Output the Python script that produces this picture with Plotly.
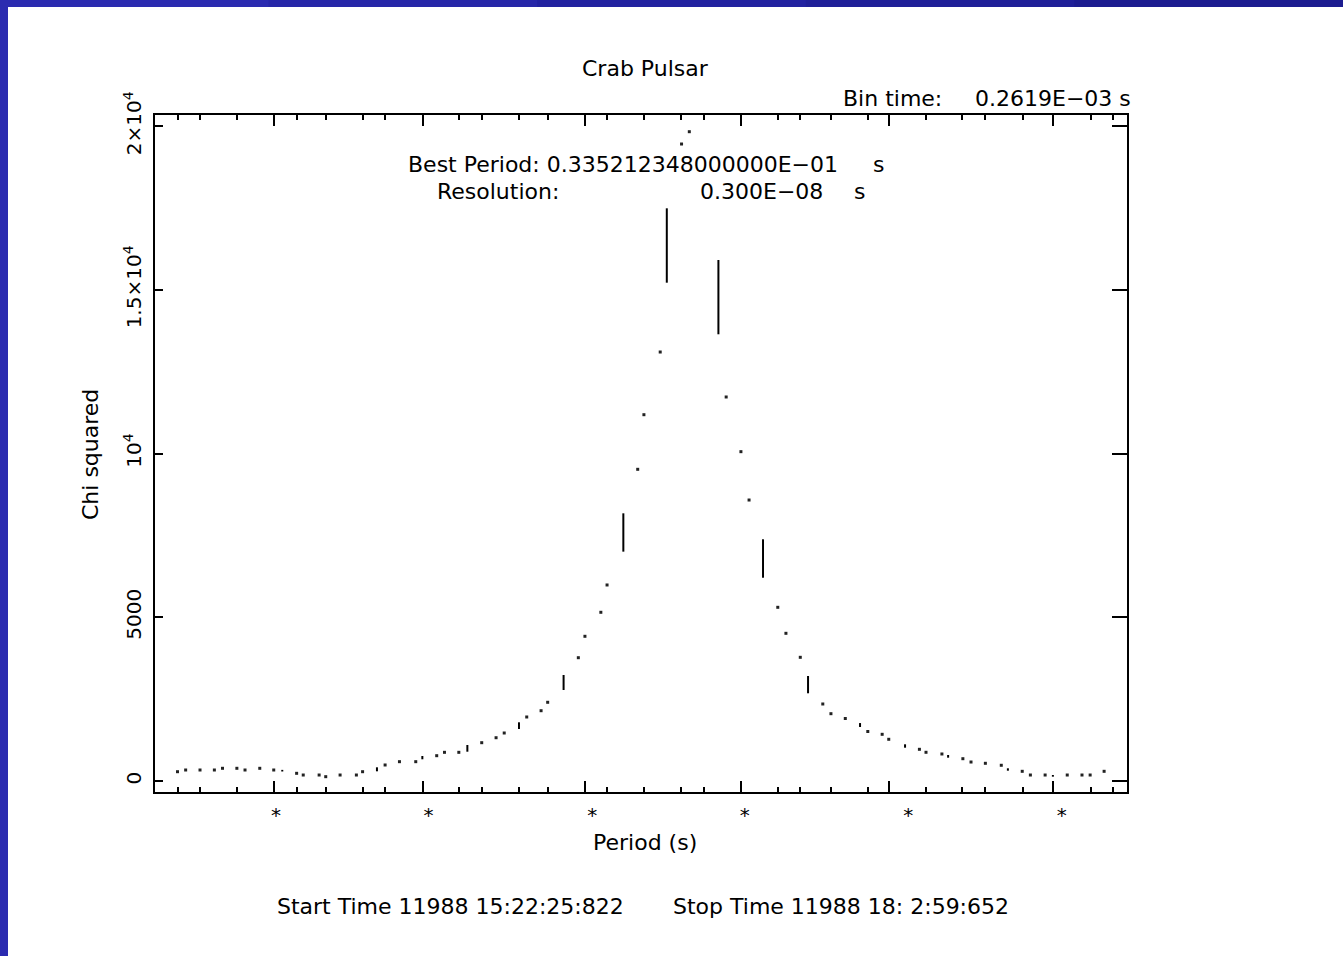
import plotly.graph_objects as go

# ---------------- data ----------------
# x: period offset from the best period, in ns ; y: chi squared
dot_x = [-131.8, -129.7, -126.0, -122.3, -120.2, -116.5, -114.4, -110.6, -107.0, -101.1,
         -99.4, -95.3, -93.6, -89.9, -85.7, -84.1, -78.3, -74.6, -70.4, -65.0,
         -63.0, -59.3, -53.4, -49.7, -47.6, -41.8, -38.1, -36.4, -28.5, -26.8,
         -22.7, -21.1, -13.2, -11.6, -7.4, -1.9, 0.1, 9.6, 13.4, 15.5,
         22.9, 25.0, 28.7, 34.5, 36.6, 40.3, 46.1, 49.8, 51.5, 59.4,
         61.1, 65.2, 70.6, 72.7, 76.4, 80.5, 85.9, 88.0, 91.8, 97.5,
         101.3, 103.4, 107.0]
dot_y = [284, 336, 336, 336, 388, 388, 336, 388, 336, 235,
         183, 183, 132, 183, 183, 284, 489, 590, 590, 773,
         876, 876, 1170, 1322, 1466, 1955, 2147, 2404, 3766, 4420,
         5153, 5987, 9520, 11188, 13103, 19456, 19832, 11729, 10059, 8582,
         5305, 4511, 3778, 2352, 2056, 1909, 1512, 1426, 1274, 968,
         877, 825, 681, 580, 541, 480, 296, 183, 183, 183,
         183, 183, 296]

# coincident points drawn as vertical strokes
bar_x = [-104.8, -80.4, -68.7, -57.1, -43.8, -32.3, -16.9, -5.7, 7.6, 19.1,
         30.7, 44.1, 55.7, 66.8, 82.2, 93.8]
bar_lo = [290, 296, 663, 895, 1588, 2780, 7005, 15220, 13644, 6209,
          2679, 1650, 1017, 712, 315, 132]
bar_hi = [340, 418, 764, 1100, 1793, 3238, 8176, 17492, 15913, 7382,
          3207, 1770, 1121, 794, 388, 183]

x_major_ticks = [-107.0, -68.6, -26.9, 13.4, 51.5, 93.9]
x_minor_ticks = [-131.8, -126.0, -116.4, -101.1, -93.6, -84.1, -78.3, -59.2, -53.4,
                 -43.9, -36.4, -21.1, -11.5, -2.1, 3.9, 22.9, 28.7, 36.5, 46.1,
                 61.0, 70.5, 76.3, 86.0, 103.5, 109.4]
x_star_labels = [-106.4, -67.1, -24.9, 14.4, 56.5, 96.1]
x_star_text = ["*", "*", "*", "*", "*", "*"]

y_tick_vals = [0, 5000, 10000, 15000, 20000]
y_tick_text = ["0", "5000", "10<sup>4</sup>", "1.5×10<sup>4</sup>", "2×10<sup>4</sup>"]

x_range = [-137.6, 112.9]
y_range = [-336, 20342]

# ---------------- layout helpers (pixel -> paper) ----------------
W, H = 1343, 956
L, R, T, B = 155, 1127, 115, 792


def xp(px):
    return (px - L) / (R - L)


def yp(py):
    return (B - py) / (B - T)


FONT = "DejaVu Sans"
FS = 22

fig = go.Figure()

bx, by = [], []
for x, lo, hi in zip(bar_x, bar_lo, bar_hi):
    bx += [x, x, None]
    by += [lo, hi, None]

fig.add_trace(go.Scatter(x=dot_x, y=dot_y, mode="markers",
                         marker=dict(symbol="square", size=3, color="#222222",
                                     line=dict(width=0)),
                         showlegend=False, hoverinfo="x+y"))
fig.add_trace(go.Scatter(x=bx, y=by, mode="lines", xaxis="x2", yaxis="y2",
                         line=dict(color="black", width=2),
                         showlegend=False, hoverinfo="skip"))

annotations = []


def txt(text, px, py, anchor="left", angle=0):
    annotations.append(dict(x=xp(px), y=yp(py), xref="paper", yref="paper",
                            text=text, showarrow=False, xanchor=anchor,
                            yanchor="middle", textangle=angle,
                            font=dict(family=FONT, size=FS, color="black")))


txt("Crab Pulsar", 645, 68, "center")
txt("Bin time:", 841, 99)
txt("0.2619E\u221203 s", 973, 99)
txt("Best Period: 0.335212348000000E\u221201", 406, 165)
txt("s", 871, 165)
txt("Resolution:", 435, 192)
txt("0.300E\u221208", 698, 192)
txt("s", 852, 192)
txt("Period (s)", 645, 842, "center")
txt("Chi squared", 90, 455, "center", -90)
txt("Start Time 11988 15:22:25:822", 275, 906)
txt("Stop Time 11988 18: 2:59:652", 671, 906)

# blue slide border (left and top strips)
shapes = [
    dict(type="rect", xref="paper", yref="paper", x0=xp(0), x1=xp(8), y0=yp(H), y1=yp(0),
         fillcolor="#2b2bb0", line=dict(width=0), layer="below"),
]
top_cols = ["#2b2bb0", "#2727a8", "#2222a0", "#1f1f98", "#1c1c90"]
seg = W / len(top_cols)
for i, c in enumerate(top_cols):
    shapes.append(dict(type="rect", xref="paper", yref="paper",
                       x0=xp(i * seg), x1=xp((i + 1) * seg + 1), y0=yp(7), y1=yp(0),
                       fillcolor=c, line=dict(width=0), layer="below"))

fig.update_layout(
    width=W, height=H,
    margin=dict(l=L, r=W - R, t=T, b=H - B, pad=0),
    paper_bgcolor="white", plot_bgcolor="white",
    font=dict(family=FONT, size=FS, color="black"),
    showlegend=False,
    xaxis=dict(range=x_range, showgrid=False, zeroline=False,
               showline=True, linecolor="black", linewidth=2, mirror="ticks",
               ticks="inside", ticklen=11, tickwidth=1.6, tickcolor="black",
               tickmode="array", tickvals=x_major_ticks, showticklabels=False,
               minor=dict(tickmode="array", tickvals=x_minor_ticks, ticks="inside",
                          ticklen=5, tickwidth=1.6, tickcolor="black", showgrid=False)),
    xaxis2=dict(overlaying="x", matches="x", side="bottom", showgrid=False,
                zeroline=False, showline=False, ticks="",
                tickmode="array", tickvals=x_star_labels, ticktext=x_star_text,
                ticklabelstandoff=9,
                tickfont=dict(family=FONT, size=20, color="black")),
    yaxis=dict(range=y_range, showgrid=False, zeroline=False,
               showline=True, linecolor="black", linewidth=2, mirror=True,
               ticks="inside", ticklen=8, tickwidth=1.6, tickcolor="black",
               tickmode="array", tickvals=y_tick_vals, ticktext=y_tick_text,
               tickangle=-90, ticklabelstandoff=4,
               tickfont=dict(family=FONT, size=20, color="black")),
    yaxis2=dict(overlaying="y", matches="y", side="right", showgrid=False,
                zeroline=False, showline=True, linecolor="black", linewidth=2,
                ticks="inside", ticklen=15, tickwidth=1.6, tickcolor="black",
                tickmode="array", tickvals=y_tick_vals, showticklabels=False),
    annotations=annotations,
    shapes=shapes,
)

fig.write_html("out.html",
               config={"displayModeBar": False},
               post_script="document.body.style.margin='0';"
                           "document.body.style.overflow='hidden';")
